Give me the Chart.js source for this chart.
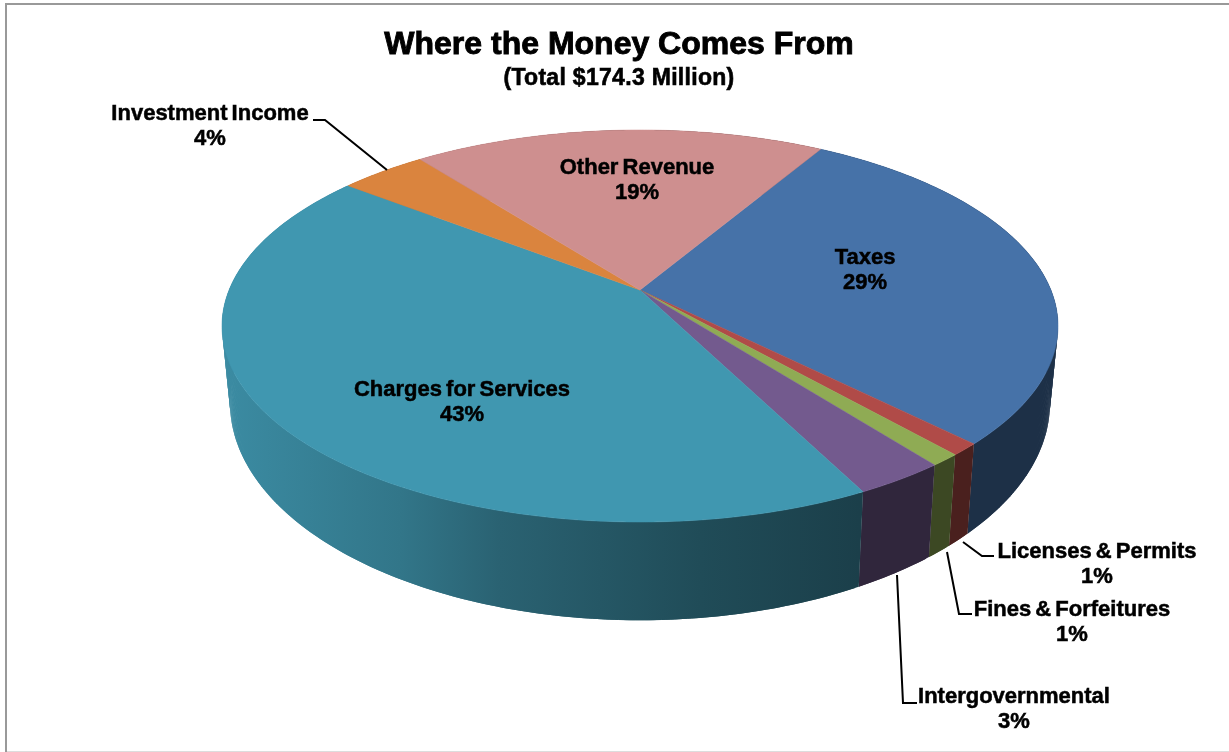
<!DOCTYPE html>
<html>
<head>
<meta charset="utf-8">
<title>Where the Money Comes From</title>
<script src="https://cdn.jsdelivr.net/npm/chart.js@4"></script>
<style>
    html, body { margin: 0; padding: 0; background: #fff; }
    canvas { display: block; }
</style>
</head>
<body>
<canvas id="revenue-chart" width="1229" height="752"></canvas>
<script>
const categories = ['Taxes', 'Licenses & Permits', 'Fines & Forfeitures', 'Intergovernmental', 'Charges for Services', 'Investment Income', 'Other Revenue'];
const shares = [29, 1, 1, 3, 43, 4, 19];
const sliceColors = ['#4672A8', '#B04B48', '#8FAB54', '#735A8E', '#4097B0', '#DA843E', '#CE8F8F'];
const titleText = 'Where the Money Comes From';
const subtitleText = '(Total $174.3 Million)';

// label centres and leader lines, one entry per category
const labelSpots = [
    { x: 865, y: 258 },
    { x: 1097, y: 552, leader: [[963, 542], [982, 556], [994, 556]] },
    { x: 1072, y: 610, leader: [[947, 552], [959, 614], [972, 614]] },
    { x: 1014, y: 697, leader: [[897, 575], [903, 703], [917, 703]] },
    { x: 462, y: 390 },
    { x: 210, y: 114, leader: [[313, 120], [325, 120], [387, 170]] },
    { x: 637, y: 168 }
];

// the disc seen from above with some perspective
const tilt = 0.1837;
const topRing = { cx: 640, cy: 290, rx: 410.9, ry: 189.4 };
const bottomRing = { cx: 640, cy: 363, rx: 403, ry: 210 };

// brightness of the side wall along x
const wallStops = [[225, 0.92], [400, 0.78], [500, 0.65], [700, 0.5], [860, 0.42]];

function project(ring, angle) {
    const x = Math.cos(angle), y = Math.sin(angle);
    const w = 1 - tilt * y;
    return [ring.cx + ring.rx * x / w, ring.cy + ring.ry * y / w];
}

function shade(hex, f) {
    const n = parseInt(hex.slice(1), 16);
    return `rgb(${Math.round((n >> 16) * f)},${Math.round(((n >> 8) & 255) * f)},${Math.round((n & 255) * f)})`;
}

function wallGradient(ctx, color) {
    const x0 = wallStops[0][0], x1 = wallStops[wallStops.length - 1][0];
    const grad = ctx.createLinearGradient(x0, 0, x1, 0);
    wallStops.forEach(s => grad.addColorStop((s[0] - x0) / (x1 - x0), shade(color, s[1])));
    return grad;
}

function arcAngles(from, to) {
    const list = [];
    const step = Math.PI / 360;
    for (let a = from; a < to; a += step) list.push(a);
    list.push(to);
    return list;
}

function tracePath(ctx, pts) {
    ctx.beginPath();
    pts.forEach((p, k) => k ? ctx.lineTo(p[0], p[1]) : ctx.moveTo(p[0], p[1]));
    ctx.closePath();
}

// bold text with a thin outline so it sits a little heavier
function heavyText(ctx, text, x, y, weight) {
    ctx.lineWidth = weight;
    ctx.strokeText(text, x, y);
    ctx.fillText(text, x, y);
}

const pie3d = {
    id: 'pie3d',
    beforeDraw(chart) {
        const ctx = chart.ctx;
        ctx.save();
        ctx.fillStyle = '#fff';
        ctx.fillRect(0, 0, chart.width, chart.height);
        // frame: left and top are drawn solid, bottom is faint, right edge is open
        ctx.fillStyle = '#999';
        ctx.fillRect(5, 3, 2, 749);
        ctx.fillRect(5, 3, 1224, 2);
        ctx.fillStyle = '#ddd';
        ctx.fillRect(7, 751, 1222, 1);
        ctx.restore();
    },
    beforeDatasetDraw(chart, args) {
        const ctx = chart.ctx;
        const arcs = args.meta.data;
        ctx.save();

        // side wall first, the top face hides whatever is behind it.
        // each strip runs two steps so the next one covers its soft edge
        arcs.forEach((arc, i) => {
            const angles = arcAngles(arc.startAngle, arc.endAngle);
            ctx.fillStyle = wallGradient(ctx, sliceColors[i]);
            for (let k = 0; k < angles.length - 1; k++) {
                const far = angles[Math.min(k + 2, angles.length - 1)];
                tracePath(ctx, [
                    project(topRing, angles[k]),
                    project(topRing, far),
                    project(bottomRing, far),
                    project(bottomRing, angles[k])
                ]);
                ctx.fill();
            }
        });

        arcs.forEach((arc, i) => {
            const rim = arcAngles(arc.startAngle, arc.endAngle).map(a => project(topRing, a));
            ctx.fillStyle = sliceColors[i];
            ctx.strokeStyle = sliceColors[i];
            ctx.lineWidth = 0.5;
            tracePath(ctx, [[topRing.cx, topRing.cy]].concat(rim));
            ctx.fill();
            ctx.stroke();
        });

        ctx.restore();
        return false;
    },
    afterDatasetsDraw(chart) {
        const ctx = chart.ctx;
        const values = chart.data.datasets[0].data;
        ctx.save();
        ctx.strokeStyle = '#000';
        ctx.fillStyle = '#000';
        ctx.textAlign = 'center';
        ctx.textBaseline = 'middle';

        ctx.font = 'bold 32px "Liberation Sans"';
        heavyText(ctx, titleText, 619, 45, 0.9);
        ctx.font = 'bold 23px "Liberation Sans"';
        ctx.letterSpacing = '0.3px';
        heavyText(ctx, subtitleText, 619, 79, 0.6);
        ctx.letterSpacing = '0px';

        ctx.font = 'bold 22px "Liberation Sans"';
        ctx.wordSpacing = '-2px';
        chart.data.labels.forEach((name, i) => {
            const spot = labelSpots[i];
            if (spot.leader) {
                ctx.lineWidth = 2;
                ctx.beginPath();
                spot.leader.forEach((p, k) => k ? ctx.lineTo(p[0], p[1]) : ctx.moveTo(p[0], p[1]));
                ctx.stroke();
            }
            heavyText(ctx, name, spot.x, spot.y, 0.5);
            heavyText(ctx, values[i] + '%', spot.x, spot.y + 25, 0.5);
        });
        ctx.restore();
    }
};

new Chart(document.getElementById('revenue-chart'), {
    type: 'pie',
    data: {
        labels: categories,
        datasets: [{ data: shares, backgroundColor: sliceColors, borderWidth: 0 }]
    },
    options: {
        responsive: false,
        animation: false,
        rotation: 30.6,
        plugins: {
            legend: { display: false },
            tooltip: { enabled: false }
        }
    },
    plugins: [pie3d]
});
</script>
</body>
</html>
